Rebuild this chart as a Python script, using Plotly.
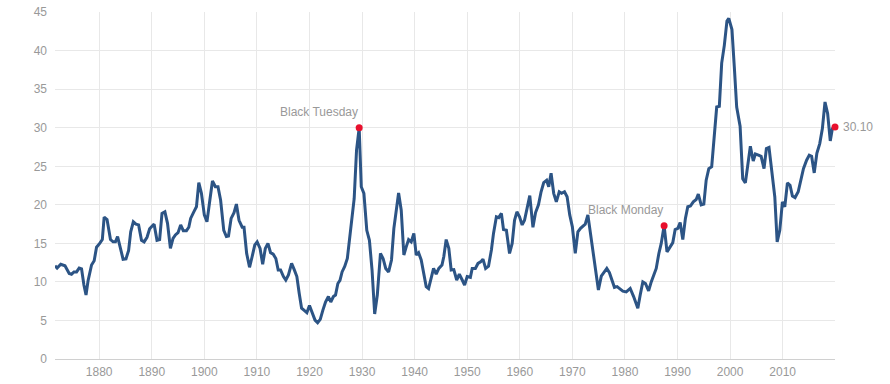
import plotly.graph_objects as go

# Shiller PE (CAPE)
years = [
    1871.6, 1872.0, 1872.7, 1873.5, 1874.3, 1874.75, 1875.2, 1875.7, 1876.2, 1876.65,
    1877.1, 1877.5, 1877.9, 1878.55, 1879.05, 1879.5, 1880.1, 1880.6, 1880.95, 1881.5,
    1882.15, 1882.65, 1883.1, 1883.5, 1884.05, 1884.55, 1885.1, 1885.6, 1886.0, 1886.5,
    1887.0, 1887.5, 1888.05, 1888.55, 1889.1, 1889.6, 1890.0, 1890.45, 1891.0, 1891.5,
    1891.95, 1892.5, 1893.0, 1893.55, 1894.05, 1894.5, 1895.0, 1895.5, 1896.0, 1896.6,
    1897.05, 1897.4, 1898.0, 1898.5, 1898.95, 1899.45, 1900.0, 1900.5, 1901.05, 1901.55,
    1902.1, 1902.6, 1903.1, 1903.7, 1904.2, 1904.6, 1905.1, 1905.65, 1906.1, 1906.6,
    1907.2, 1907.55, 1908.05, 1908.6, 1909.1, 1909.6, 1910.05, 1910.6, 1911.1, 1911.6,
    1912.1, 1912.6, 1913.1, 1913.6, 1914.05, 1914.5, 1915.05, 1915.5, 1916.0, 1916.6,
    1917.1, 1917.6, 1918.05, 1918.5, 1919.0, 1919.5, 1920.0, 1920.5, 1921.05, 1921.55,
    1922.05, 1922.55, 1923.05, 1923.6, 1924.05, 1924.55, 1924.95, 1925.4, 1925.8, 1926.2,
    1926.7, 1927.2, 1927.55, 1928.0, 1928.5, 1928.95, 1929.45, 1929.85, 1930.35, 1930.9,
    1931.4, 1931.9, 1932.4, 1932.9, 1933.5, 1934.0, 1934.5, 1935.05, 1935.6, 1936.05,
    1936.5, 1936.95, 1937.45, 1937.95, 1938.4, 1938.85, 1939.35, 1939.85, 1940.3, 1940.75,
    1941.25, 1941.7, 1942.2, 1942.65, 1943.15, 1943.6, 1944.1, 1944.6, 1945.2, 1945.55,
    1946.0, 1946.5, 1946.95, 1947.45, 1948.0, 1948.5, 1949.05, 1949.5, 1950.0, 1950.6,
    1950.95, 1951.55, 1952.05, 1952.55, 1953.0, 1953.5, 1954.05, 1954.6, 1955.0, 1955.55,
    1956.0, 1956.5, 1956.9, 1957.45, 1958.05, 1958.55, 1959.0, 1959.45, 1959.95, 1960.45,
    1960.9, 1961.4, 1961.9, 1962.5, 1963.0, 1963.55, 1964.05, 1964.55, 1965.1, 1965.5,
    1965.95, 1966.45, 1966.95, 1967.5, 1967.95, 1968.5, 1969.0, 1969.5, 1970.0, 1970.55,
    1971.05, 1971.55, 1972.0, 1972.45, 1972.95, 1973.45, 1973.95, 1974.45, 1974.95, 1975.5,
    1976.1, 1976.55, 1977.05, 1977.5, 1978.0, 1978.5, 1978.95, 1979.6, 1980.25, 1981.0,
    1981.65, 1982.45, 1982.9, 1983.4, 1983.9, 1984.5, 1985.0, 1985.5, 1985.95, 1986.45,
    1986.9, 1987.45, 1988.0, 1988.6, 1989.1, 1989.55, 1990.05, 1990.5, 1991.0, 1991.5,
    1991.95, 1992.45, 1993.0, 1993.55, 1993.95, 1994.5, 1995.0, 1995.45, 1995.95, 1996.5,
    1997.0, 1997.45, 1997.95, 1998.4, 1998.9, 1999.4, 1999.75, 2000.35, 2000.8, 2001.25,
    2001.9, 2002.4, 2002.9, 2003.35, 2003.85, 2004.4, 2004.8, 2005.4, 2005.9, 2006.45,
    2006.9, 2007.4, 2008.0, 2008.5, 2008.95, 2009.45, 2009.95, 2010.4, 2010.9, 2011.4,
    2011.85, 2012.35, 2012.95, 2013.45, 2013.95, 2014.55, 2015.05, 2015.5, 2016.0, 2016.5,
    2017.05, 2017.55, 2018.05, 2018.55, 2019.05, 2019.45, 2019.95,
]
cape = [
    12.1, 11.8, 12.3, 12.1, 11.1, 11.0, 11.3, 11.3, 11.8, 11.7,
    9.6, 8.3, 10.2, 12.2, 12.75, 14.5, 15.0, 15.5, 18.4, 18.1,
    15.5, 15.2, 15.2, 15.9, 14.35, 12.95, 13.0, 14.1, 16.5, 17.8,
    17.5, 17.4, 15.4, 15.2, 15.8, 16.9, 17.2, 17.5, 15.4, 15.5,
    18.9, 19.1, 17.6, 14.35, 15.65, 16.1, 16.4, 17.4, 16.65, 16.65,
    17.1, 18.25, 19.1, 19.75, 22.9, 21.5, 18.7, 17.8, 20.6, 23.1,
    22.35, 22.35, 20.6, 16.7, 15.9, 15.95, 18.25, 19.0, 20.1, 18.0,
    17.1, 17.1, 13.7, 11.9, 13.3, 14.8, 15.2, 14.35, 12.3, 14.35,
    15.0, 13.8, 13.6, 13.05, 11.55, 11.55, 10.7, 10.25, 10.9, 12.4,
    11.6, 10.7, 8.5, 6.6, 6.3, 6.0, 6.95, 5.9, 5.05, 4.7,
    5.15, 6.35, 7.4, 8.1, 7.4, 8.1, 8.3, 9.8, 10.2, 11.3,
    12.0, 13.05, 15.0, 18.0, 20.8, 27.1, 30.0, 22.35, 21.5, 16.7,
    15.4, 11.55, 5.85, 8.3, 13.7, 13.05, 11.75, 11.3, 12.85, 16.95,
    19.3, 21.55, 19.3, 13.5, 14.55, 15.5, 15.2, 16.3, 13.5, 13.8,
    12.85, 11.1, 9.4, 9.15, 10.45, 11.75, 11.0, 11.75, 12.2, 13.3,
    15.5, 14.35, 11.55, 11.6, 10.25, 11.0, 10.25, 9.6, 10.7, 10.6,
    11.75, 11.75, 12.4, 12.6, 12.95, 11.75, 12.05, 14.15, 16.3, 18.45,
    18.35, 18.9, 16.8, 16.7, 13.7, 15.0, 18.0, 19.1, 18.45, 17.4,
    18.0, 19.75, 21.2, 17.1, 19.0, 20.0, 21.7, 22.9, 23.2, 22.35,
    24.1, 21.5, 20.4, 21.7, 21.5, 21.7, 21.05, 18.7, 17.15, 13.7,
    16.5, 16.95, 17.25, 17.5, 18.7, 16.3, 13.7, 10.9, 8.95, 10.75,
    11.3, 11.75, 11.2, 10.25, 9.3, 9.4, 9.2, 8.8, 8.7, 9.15,
    8.1, 6.6, 8.3, 10.0, 9.8, 8.85, 10.0, 11.0, 11.75, 13.7,
    15.0, 17.3, 13.9, 14.55, 15.1, 16.8, 16.95, 17.7, 15.5, 18.25,
    19.75, 19.85, 20.4, 20.7, 21.4, 20.0, 20.1, 23.2, 24.7, 24.95,
    29.5, 32.7, 32.8, 38.4, 40.7, 43.85, 44.2, 42.75, 37.9, 32.7,
    30.2, 23.4, 22.85, 24.95, 27.6, 25.7, 26.6, 26.45, 26.3, 24.7,
    27.3, 27.45, 24.1, 21.05, 15.2, 16.7, 20.4, 19.75, 22.85, 22.55,
    21.15, 20.95, 21.7, 23.2, 24.7, 25.8, 26.45, 26.3, 24.15, 26.7,
    27.95, 29.9, 33.35, 31.85, 28.3, 29.9, 30.1,
]

event_years = [1929.45, 1987.45, 2019.95]
event_values = [30.0, 17.3, 30.1]
event_labels = ["Black Tuesday", "Black Monday", "30.10"]

x_ticks = [1880, 1890, 1900, 1910, 1920, 1930, 1940, 1950, 1960, 1970, 1980, 1990, 2000, 2010]
y_ticks = [0, 5, 10, 15, 20, 25, 30, 35, 40, 45]

FONT = "Liberation Sans, Arial, Helvetica, sans-serif"
GRAY = "#999999"

fig = go.Figure()
fig.add_trace(go.Scatter(
    x=years, y=cape, mode="lines",
    line=dict(color="#2c5485", width=3),
    hoverinfo="x+y", showlegend=False,
))
fig.add_trace(go.Scatter(
    x=event_years, y=event_values, mode="markers",
    marker=dict(color="#e8102d", size=7),
    showlegend=False, cliponaxis=False,
))

for i, (ex, ev, lab) in enumerate(zip(event_years, event_values, event_labels)):
    if i < 2:
        fig.add_annotation(x=ex, y=ev, text=lab, showarrow=False,
                           xanchor="right", yanchor="bottom", xshift=1, yshift=7,
                           font=dict(family=FONT, size=12, color=GRAY))
    else:
        fig.add_annotation(x=ex, y=ev, text=lab, showarrow=False,
                           xanchor="left", yanchor="middle", xshift=6, yshift=0,
                           font=dict(family=FONT, size=12, color=GRAY))

fig.update_layout(
    width=890, height=384,
    margin=dict(l=55, r=55, t=12, b=25, autoexpand=False),
    paper_bgcolor="white", plot_bgcolor="white",
    font=dict(family=FONT, size=12, color=GRAY),
    showlegend=False,
)
fig.update_xaxes(
    range=[1871.6, 2019.95], tickvals=x_ticks, automargin=False,
    showgrid=True, gridcolor="#e8e8e8", gridwidth=1,
    showline=True, linecolor="#d0d0d0", linewidth=1,
    zeroline=False, ticks="", ticklabelstandoff=2,
    tickfont=dict(family=FONT, size=12, color=GRAY),
)
fig.update_yaxes(
    range=[0, 45.03], tickvals=y_ticks, automargin=False,
    showgrid=True, gridcolor="#e8e8e8", gridwidth=1,
    zeroline=False, showline=False, ticks="", ticklabelstandoff=7,
    ticklabeloverflow="allow",
    tickfont=dict(family=FONT, size=12, color=GRAY),
)

# remove the browser's default 8px body margin so the figure fills the window
fig.write_html("out.html", config={"displayModeBar": False},
               post_script="document.body.style.margin='0';")
